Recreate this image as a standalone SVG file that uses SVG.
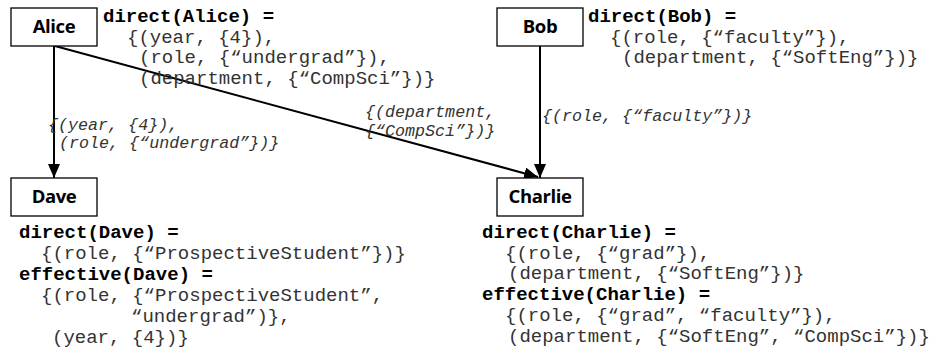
<svg xmlns="http://www.w3.org/2000/svg" width="935" height="356" viewBox="0 0 935 356">
  <defs>
    <marker id="arrow" viewBox="0 0 14 12" refX="14" refY="6" markerWidth="14" markerHeight="12" markerUnits="userSpaceOnUse" orient="auto">
      <path d="M0,0 L14,6 L0,12 Z" fill="#000"/>
    </marker>
    <style>
      .box { fill: #fff; stroke: #000; stroke-width: 1.3; }
      .name { font-family: "Open Sans", "Liberation Sans", sans-serif; font-weight: 700; font-size: 18.5px; fill: #000; text-anchor: middle; letter-spacing: -0.4px; }
      .code { font-family: "Liberation Mono", "Courier New", monospace; font-size: 19px; fill: #333; }
      .code .b { font-weight: 700; fill: #000; }
      .lbl { font-family: "Liberation Mono", "Courier New", monospace; font-size: 16.7px; font-style: italic; fill: #333; }
      .edge { stroke: #000; stroke-width: 2; fill: none; marker-end: url(#arrow); }
    </style>
  </defs>
  <rect width="935" height="356" fill="#fff"/>

  <!-- inheritance edges -->
  <g id="connectors">
    <line class="edge" x1="54" y1="46" x2="54" y2="178"/>
    <line class="edge" x1="540" y1="46" x2="540" y2="178"/>
    <line class="edge" x1="55" y1="46" x2="538" y2="177"/>
    <text class="lbl"><tspan x="48" y="130">{(year, {4}),</tspan><tspan x="59" y="148">(role, {“undergrad”})}</tspan></text>
    <text class="lbl"><tspan x="365" y="117">{(department,</tspan><tspan x="365" y="136">{“CompSci”})}</tspan></text>
    <text class="lbl" x="542" y="121">{(role, {“faculty”})}</text>
  </g>

  <g id="alice">
    <rect class="box" x="11" y="8" width="86" height="38"/>
    <text class="name" x="54" y="33">Alice</text>
    <text class="code">
      <tspan class="b" x="103" y="22">direct(Alice) =</tspan>
      <tspan x="127" y="43">{(year, {4}),</tspan>
      <tspan x="139" y="63">(role, {“undergrad”}),</tspan>
      <tspan x="139" y="84">(department, {“CompSci”})}</tspan>
    </text>
  </g>

  <g id="bob">
    <rect class="box" x="497" y="8" width="86" height="38"/>
    <text class="name" x="540" y="33">Bob</text>
    <text class="code">
      <tspan class="b" x="588" y="22">direct(Bob) =</tspan>
      <tspan x="610" y="43">{(role, {“faculty”}),</tspan>
      <tspan x="622" y="63">(department, {“SoftEng”})}</tspan>
    </text>
  </g>

  <g id="dave">
    <rect class="box" x="11" y="178" width="86" height="38"/>
    <text class="name" x="54" y="203">Dave</text>
    <text class="code">
      <tspan class="b" x="19" y="238">direct(Dave) =</tspan>
      <tspan x="41" y="259">{(role, {“ProspectiveStudent”})}</tspan>
      <tspan class="b" x="19" y="280">effective(Dave) =</tspan>
      <tspan x="41" y="301">{(role, {“ProspectiveStudent”,</tspan>
      <tspan x="131" y="322">“undergrad”)},</tspan>
      <tspan x="52" y="343">(year, {4})}</tspan>
    </text>
  </g>

  <g id="charlie">
    <rect class="box" x="497" y="178" width="86" height="38"/>
    <text class="name" x="540" y="203">Charlie</text>
    <text class="code">
      <tspan class="b" x="482" y="238">direct(Charlie) =</tspan>
      <tspan x="505" y="259">{(role, {“grad”}),</tspan>
      <tspan x="508" y="279">(department, {“SoftEng”})}</tspan>
      <tspan class="b" x="482" y="300">effective(Charlie) =</tspan>
      <tspan x="505" y="321">{(role, {“grad”, “faculty”}),</tspan>
      <tspan x="508" y="342">(department, {“SoftEng”, “CompSci”})}</tspan>
    </text>
  </g>
</svg>
